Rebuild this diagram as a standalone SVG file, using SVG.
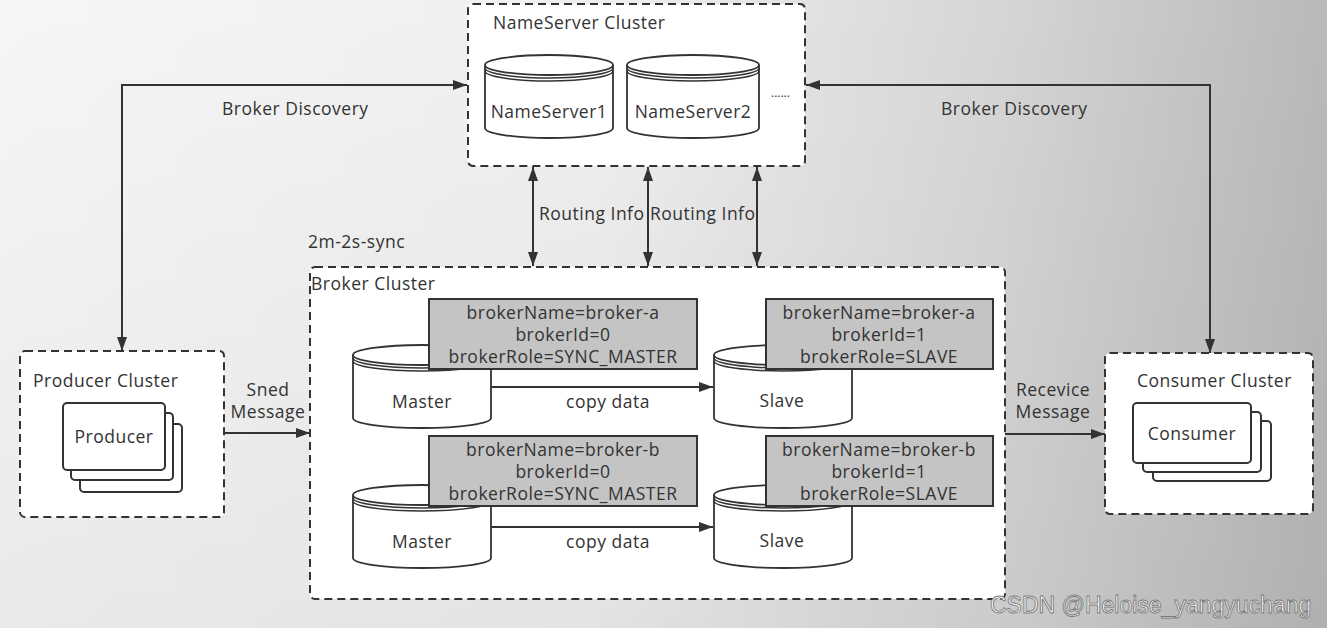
<svg xmlns="http://www.w3.org/2000/svg" width="1327" height="628" viewBox="0 0 1327 628">
  <defs>
    <linearGradient id="bg" x1="0" y1="0" x2="1" y2="0">
      <stop offset="0" stop-color="#f6f6f6"/>
      <stop offset="0.45" stop-color="#efefef"/>
      <stop offset="0.75" stop-color="#d6d6d6"/>
      <stop offset="1" stop-color="#b9b9b9"/>
    </linearGradient>
    <linearGradient id="bgv" x1="0" y1="0" x2="0" y2="1">
      <stop offset="0" stop-color="#000" stop-opacity="0"/>
      <stop offset="1" stop-color="#000" stop-opacity="0.05"/>
    </linearGradient>
    <marker id="arr" viewBox="0 0 14 10" refX="14" refY="5" markerWidth="14" markerHeight="10" markerUnits="userSpaceOnUse" orient="auto-start-reverse">
      <path d="M0,0 L14,5 L0,10 Z" fill="#333"/>
    </marker>
    <style>
      text { font-family: "Open Sans", "Noto Sans", sans-serif; font-size: 17.5px; fill: #333; letter-spacing: 0.5px; }
      .mid { text-anchor: middle; }
      .cluster { fill: #fff; stroke: #333; stroke-width: 2; stroke-dasharray: 8 5; }
      .cyl { fill: #fff; stroke: #333; stroke-width: 1.8; }
      .arc { fill: none; stroke: #333; stroke-width: 1.5; }
      .info { fill: #c4c4c4; stroke: #333; stroke-width: 2; }
      .card { fill: #fff; stroke: #333; stroke-width: 2; }
      .conn { fill: none; stroke: #333; stroke-width: 2; }
      .wm { font-family: "Liberation Sans", Arial, sans-serif; font-size: 23px; fill: #fff; stroke: #7a7a7a; stroke-width: 0.9; letter-spacing: 0; }
    </style>
  </defs>

  <rect x="0" y="0" width="1327" height="628" fill="url(#bg)"/>
  <rect x="0" y="0" width="1327" height="628" fill="url(#bgv)"/>

  <!-- NameServer cluster -->
  <g id="nameserver-cluster">
    <rect class="cluster" x="468" y="4" width="337" height="162" rx="5"/>
    <text x="493" y="29">NameServer Cluster</text>
  </g>
  <g id="nameserver1">
    <path class="cyl" d="M485,65 V128 A64,10 0 0 0 613,128 V65"/>
    <ellipse class="cyl" cx="549" cy="65" rx="64" ry="10"/>
    <path class="arc" d="M485,68 A64,10 0 0 0 613,68 M485,71 A64,10 0 0 0 613,71"/>
    <text class="mid" x="549" y="118">NameServer1</text>
  </g>
  <g id="nameserver2">
    <path class="cyl" d="M627,65 V128 A66,10 0 0 0 759,128 V65"/>
    <ellipse class="cyl" cx="693" cy="65" rx="66" ry="10"/>
    <path class="arc" d="M627,68 A66,10 0 0 0 759,68 M627,71 A66,10 0 0 0 759,71"/>
    <text class="mid" x="693" y="118">NameServer2</text>
  </g>
  <g id="nameserver-more">
    <text x="771" y="97" style="font-size:12px;letter-spacing:0">......</text>
  </g>

  <!-- Broker cluster -->
  <g id="broker-cluster">
    <text x="308" y="248">2m-2s-sync</text>
    <rect class="cluster" x="310" y="267" width="695" height="332" rx="5"/>
    <text x="311" y="290">Broker Cluster</text>
  </g>

  <g id="master-a">
    <path class="cyl" d="M353,355 V418 A69,10 0 0 0 491,418 V355"/>
    <ellipse class="cyl" cx="422" cy="355" rx="69" ry="10"/>
    <path class="arc" d="M353,358 A69,10 0 0 0 491,358 M353,361 A69,10 0 0 0 491,361"/>
    <text class="mid" x="422" y="408">Master</text>
    <rect class="info" x="429" y="299" width="268" height="70"/>
    <text class="mid" x="563" y="319">brokerName=broker-a</text>
    <text class="mid" x="563" y="341">brokerId=0</text>
    <text class="mid" x="563" y="363">brokerRole=SYNC_MASTER</text>
  </g>
  <g id="slave-a">
    <path class="cyl" d="M714,355 V418 A69,10 0 0 0 852,418 V355"/>
    <ellipse class="cyl" cx="783" cy="355" rx="69" ry="10"/>
    <path class="arc" d="M714,358 A69,10 0 0 0 852,358 M714,361 A69,10 0 0 0 852,361"/>
    <text class="mid" x="782" y="407">Slave</text>
    <rect class="info" x="766" y="299" width="227" height="70"/>
    <text class="mid" x="879" y="319">brokerName=broker-a</text>
    <text class="mid" x="879" y="341">brokerId=1</text>
    <text class="mid" x="879" y="363">brokerRole=SLAVE</text>
  </g>
  <g id="master-b">
    <path class="cyl" d="M353,495 V558 A69,10 0 0 0 491,558 V495"/>
    <ellipse class="cyl" cx="422" cy="495" rx="69" ry="10"/>
    <path class="arc" d="M353,498 A69,10 0 0 0 491,498 M353,501 A69,10 0 0 0 491,501"/>
    <text class="mid" x="422" y="548">Master</text>
    <rect class="info" x="429" y="436" width="268" height="70"/>
    <text class="mid" x="563" y="456">brokerName=broker-b</text>
    <text class="mid" x="563" y="478">brokerId=0</text>
    <text class="mid" x="563" y="500">brokerRole=SYNC_MASTER</text>
  </g>
  <g id="slave-b">
    <path class="cyl" d="M714,495 V558 A69,10 0 0 0 852,558 V495"/>
    <ellipse class="cyl" cx="783" cy="495" rx="69" ry="10"/>
    <path class="arc" d="M714,498 A69,10 0 0 0 852,498 M714,501 A69,10 0 0 0 852,501"/>
    <text class="mid" x="782" y="547">Slave</text>
    <rect class="info" x="766" y="436" width="227" height="70"/>
    <text class="mid" x="879" y="456">brokerName=broker-b</text>
    <text class="mid" x="879" y="478">brokerId=1</text>
    <text class="mid" x="879" y="500">brokerRole=SLAVE</text>
  </g>

  <!-- Producer cluster -->
  <g id="producer-cluster">
    <rect class="cluster" x="20" y="351" width="204" height="166" rx="5"/>
    <text x="33" y="387">Producer Cluster</text>
    <rect class="card" x="80" y="424" width="102" height="68" rx="4"/>
    <rect class="card" x="71" y="413" width="102" height="67" rx="4"/>
    <rect class="card" x="63" y="403" width="102" height="67" rx="4"/>
    <text class="mid" x="114" y="443">Producer</text>
  </g>

  <!-- Consumer cluster -->
  <g id="consumer-cluster">
    <rect class="cluster" x="1105" y="353" width="208" height="161" rx="5"/>
    <text x="1137" y="387">Consumer Cluster</text>
    <rect class="card" x="1153" y="421" width="118" height="60" rx="4"/>
    <rect class="card" x="1143" y="412" width="118" height="60" rx="4"/>
    <rect class="card" x="1133" y="403" width="118" height="60" rx="4"/>
    <text class="mid" x="1192" y="440">Consumer</text>
  </g>

  <!-- Connectors -->
  <g id="connectors">
    <path class="conn" d="M122,351 V85 H467" marker-start="url(#arr)" marker-end="url(#arr)"/>
    <path class="conn" d="M806,85 H1210 V353" marker-start="url(#arr)" marker-end="url(#arr)"/>
    <path class="conn" d="M533,167 V266" marker-start="url(#arr)" marker-end="url(#arr)"/>
    <path class="conn" d="M648,167 V266" marker-start="url(#arr)" marker-end="url(#arr)"/>
    <path class="conn" d="M757,167 V266" marker-start="url(#arr)" marker-end="url(#arr)"/>
    <path class="conn" d="M224,433 H310" marker-end="url(#arr)"/>
    <path class="conn" d="M1005,434 H1105" marker-end="url(#arr)"/>
    <path class="conn" d="M491,387 H713" marker-end="url(#arr)"/>
    <path class="conn" d="M491,527 H713" marker-end="url(#arr)"/>
    <text x="222" y="115">Broker Discovery</text>
    <text x="941" y="115">Broker Discovery</text>
    <text x="539" y="220">Routing Info</text>
    <text x="650" y="220">Routing Info</text>
    <text class="mid" x="268" y="396">Sned</text>
    <text class="mid" x="268" y="418">Message</text>
    <text class="mid" x="1053" y="396">Recevice</text>
    <text class="mid" x="1053" y="418">Message</text>
    <text class="mid" x="608" y="408">copy data</text>
    <text class="mid" x="608" y="548">copy data</text>
  </g>

  <text class="wm" x="990" y="613">CSDN @Heloise_yangyuchang</text>
</svg>
